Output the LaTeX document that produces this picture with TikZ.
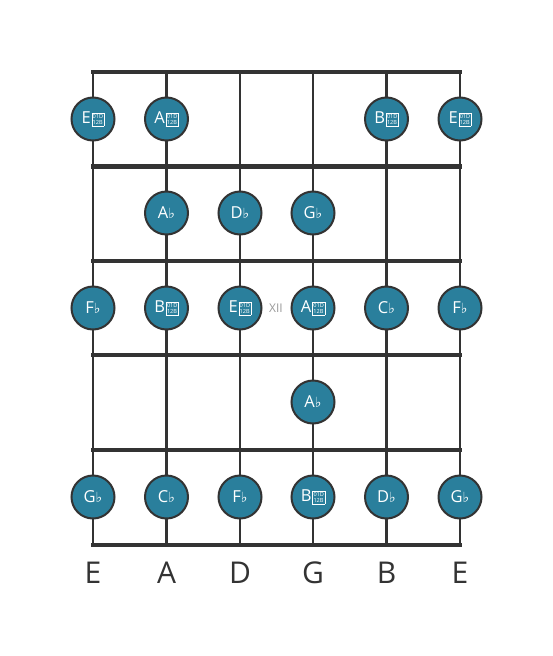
\documentclass[tikz,border=0pt]{standalone}
\usepackage{fontspec}
\setmainfont{Open Sans}
\newfontfamily\dvfont{DejaVu Sans}
\definecolor{notefill}{HTML}{2A7F9C}
\definecolor{inkdark}{HTML}{333333}
\newcommand\fl{{\dvfont\fontsize{14}{14}\selectfont ♭}}
\newcommand\dfl{\kern0.8pt\raisebox{-1.2pt}{\setlength\fboxsep{0.7pt}\setlength\fboxrule{0.5pt}\fbox{\fontsize{5.6}{6.6}\selectfont\vbox{\hbox{01D}\hbox{12B}}}}}
\tikzset{
  stringline/.style={draw=inkdark, line width=2.4pt},
  fretline/.style={draw=inkdark, line width=4.6pt},
  note/.style={circle, draw=inkdark, line width=2pt, fill=notefill, minimum size=43pt, inner sep=0pt, text=white, font=\fontsize{16.5}{16.5}\selectfont},
  strlabel/.style={text=inkdark, font=\fontsize{30}{30}\selectfont},
  fretnum/.style={text=gray!80, font=\fontsize{12}{12}\selectfont}
}
\begin{document}
\begin{tikzpicture}[x=1pt, y=-1pt]
\useasboundingbox (0,0) rectangle (553,656);
% string ends
\foreach \i/\x in {1/93,2/166.5,3/240,4/313,5/386.5,6/460}{
  \coordinate (t\i) at (\x,72);
  \coordinate (b\i) at (\x,545);
}
\foreach \i in {1,...,6}{ \draw[stringline] (t\i) -- (b\i); }
% frets
\foreach \j/\y in {0/72,1/166.5,2/261,3/355,4/450,5/545}{
  \coordinate (fl\j) at (91,\y);
  \coordinate (fr\j) at (462,\y);
  \draw[fretline] (fl\j) -- (fr\j);
}
% fret 12 marker
\node[fretnum] (xii) at (276,308) {XII};
% row 1
\node[note] (n11) at (93,119) {E\dfl};
\node[note] (n12) at (166.5,119) {A\dfl};
\node[note] (n15) at (386.5,119) {B\dfl};
\node[note] (n16) at (460,119) {E\dfl};
% row 2
\node[note] (n22) at (166.5,213) {A\fl};
\node[note] (n23) at (240,213) {D\fl};
\node[note] (n24) at (313,213) {G\fl};
% row 3
\node[note] (n31) at (93,308) {F\fl};
\node[note] (n32) at (166.5,308) {B\dfl};
\node[note] (n33) at (240,308) {E\dfl};
\node[note] (n34) at (313,308) {A\dfl};
\node[note] (n35) at (386.5,308) {C\fl};
\node[note] (n36) at (460,308) {F\fl};
% row 4
\node[note] (n44) at (313,402) {A\fl};
% row 5
\node[note] (n51) at (93,497) {G\fl};
\node[note] (n52) at (166.5,497) {C\fl};
\node[note] (n53) at (240,497) {F\fl};
\node[note] (n54) at (313,497) {B\dfl};
\node[note] (n55) at (386.5,497) {D\fl};
\node[note] (n56) at (460,497) {G\fl};
% string names
\node[strlabel] (l1) at (93,573) {E};
\node[strlabel] (l2) at (166.5,573) {A};
\node[strlabel] (l3) at (240,573) {D};
\node[strlabel] (l4) at (313,573) {G};
\node[strlabel] (l5) at (386.5,573) {B};
\node[strlabel] (l6) at (460,573) {E};
\end{tikzpicture}
\end{document}
